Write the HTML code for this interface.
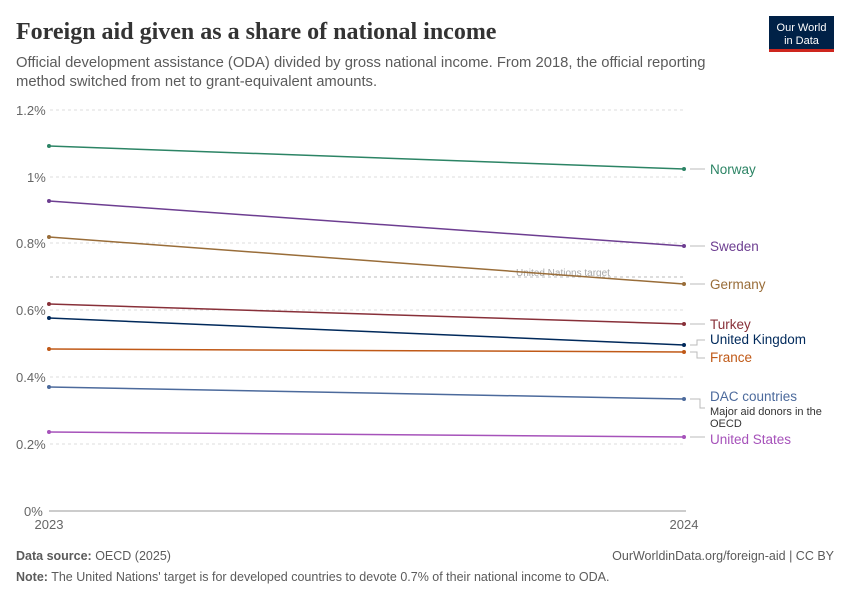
<!DOCTYPE html>
<html><head><meta charset="utf-8"><style>
body{margin:0;background:#fff;}
svg{display:block;font-family:"Liberation Sans",sans-serif;}
</style></head><body>
<svg width="850" height="600" viewBox="0 0 850 600">
<text x="16" y="39" font-family="Liberation Serif,serif" font-size="24" font-weight="bold" fill="#333">Foreign aid given as a share of national income</text>
<text x="16" y="67" font-size="14.8" fill="#5b5b5b">Official development assistance (ODA) divided by gross national income. From 2018, the official reporting</text>
<text x="16" y="86" font-size="14.8" fill="#5b5b5b">method switched from net to grant-equivalent amounts.</text>
<rect x="769" y="16" width="65" height="34" fill="#002147"/>
<rect x="769" y="49" width="65" height="3" fill="#ce261e"/>
<text x="801.5" y="31" font-size="11" fill="#fff" text-anchor="middle">Our World</text>
<text x="801.5" y="44" font-size="11" fill="#fff" text-anchor="middle">in Data</text>
<g stroke="#ddd" stroke-dasharray="3,3" stroke-width="1">
<line x1="50" x2="686" y1="110" y2="110"/><line x1="50" x2="686" y1="177" y2="177"/>
<line x1="50" x2="686" y1="243" y2="243"/><line x1="50" x2="686" y1="310" y2="310"/>
<line x1="50" x2="686" y1="377" y2="377"/><line x1="50" x2="686" y1="444" y2="444"/>
<line x1="50" x2="686" y1="277" y2="277" stroke="#bbb"/>
</g>
<line x1="49" x2="686" y1="511" y2="511" stroke="#999"/>
<g font-size="13" fill="#666">
<text x="16" y="115">1.2%</text><text x="27" y="182">1%</text><text x="16" y="248">0.8%</text>
<text x="16" y="315">0.6%</text><text x="16" y="382">0.4%</text><text x="16" y="449">0.2%</text>
<text x="24" y="516">0%</text>
<text x="49" y="529" text-anchor="middle" fill="#666">2023</text>
<text x="684" y="529" text-anchor="middle">2024</text>
</g>
<text x="516" y="276" font-size="10" fill="#aaa">United Nations target</text>
<g stroke-width="1.5" fill="none">
<line x1="49" y1="146" x2="684" y2="169" stroke="#2c8465"/>
<line x1="49" y1="201" x2="684" y2="246" stroke="#6d3e91"/>
<line x1="49" y1="237" x2="684" y2="284" stroke="#996d39"/>
<line x1="49" y1="304" x2="684" y2="324" stroke="#883039"/>
<line x1="49" y1="318" x2="684" y2="345" stroke="#00295b"/>
<line x1="49" y1="349" x2="684" y2="352" stroke="#c05917"/>
<line x1="49" y1="387" x2="684" y2="399" stroke="#4c6a9c"/>
<line x1="49" y1="432" x2="684" y2="437" stroke="#a652ba"/>
</g>
<g>
<circle cx="49" cy="146" r="2" fill="#2c8465"/><circle cx="684" cy="169" r="2" fill="#2c8465"/>
<circle cx="49" cy="201" r="2" fill="#6d3e91"/><circle cx="684" cy="246" r="2" fill="#6d3e91"/>
<circle cx="49" cy="237" r="2" fill="#996d39"/><circle cx="684" cy="284" r="2" fill="#996d39"/>
<circle cx="49" cy="304" r="2" fill="#883039"/><circle cx="684" cy="324" r="2" fill="#883039"/>
<circle cx="49" cy="318" r="2" fill="#00295b"/><circle cx="684" cy="345" r="2" fill="#00295b"/>
<circle cx="49" cy="349" r="2" fill="#c05917"/><circle cx="684" cy="352" r="2" fill="#c05917"/>
<circle cx="49" cy="387" r="2" fill="#4c6a9c"/><circle cx="684" cy="399" r="2" fill="#4c6a9c"/>
<circle cx="49" cy="432" r="2" fill="#a652ba"/><circle cx="684" cy="437" r="2" fill="#a652ba"/>
</g>
<g stroke="#bbb" fill="none">
<line x1="690" x2="705" y1="169" y2="169"/><line x1="690" x2="705" y1="246" y2="246"/>
<line x1="690" x2="705" y1="284" y2="284"/><line x1="690" x2="705" y1="324" y2="324"/>
<polyline points="690,345 697,345 697,340 705,340"/><polyline points="690,352 697,352 697,358 705,358"/>
<polyline points="690,399 700,399 700,408 705,408"/><line x1="690" x2="705" y1="437" y2="437"/>
</g>
<g font-size="13.5">
<text x="710" y="174" fill="#2c8465">Norway</text>
<text x="710" y="251" fill="#6d3e91">Sweden</text>
<text x="710" y="289" fill="#996d39">Germany</text>
<text x="710" y="329" fill="#883039">Turkey</text>
<text x="710" y="344" fill="#00295b">United Kingdom</text>
<text x="710" y="362" fill="#c05917">France</text>
<text x="710" y="401" fill="#4c6a9c">DAC countries</text>
<text x="710" y="415" font-size="11" fill="#333">Major aid donors in the</text>
<text x="710" y="427" font-size="11" fill="#333">OECD</text>
<text x="710" y="444" fill="#a652ba">United States</text>
</g>
<text x="16" y="560" font-size="12.5" fill="#5b5b5b"><tspan font-weight="bold">Data source:</tspan> OECD (2025)</text>
<text x="834" y="560" font-size="12.5" fill="#5b5b5b" text-anchor="end">OurWorldinData.org/foreign-aid | CC BY</text>
<text x="16" y="581" font-size="12.5" fill="#5b5b5b"><tspan font-weight="bold">Note:</tspan> The United Nations' target is for developed countries to devote 0.7% of their national income to ODA.</text>
</svg>
</body></html>
